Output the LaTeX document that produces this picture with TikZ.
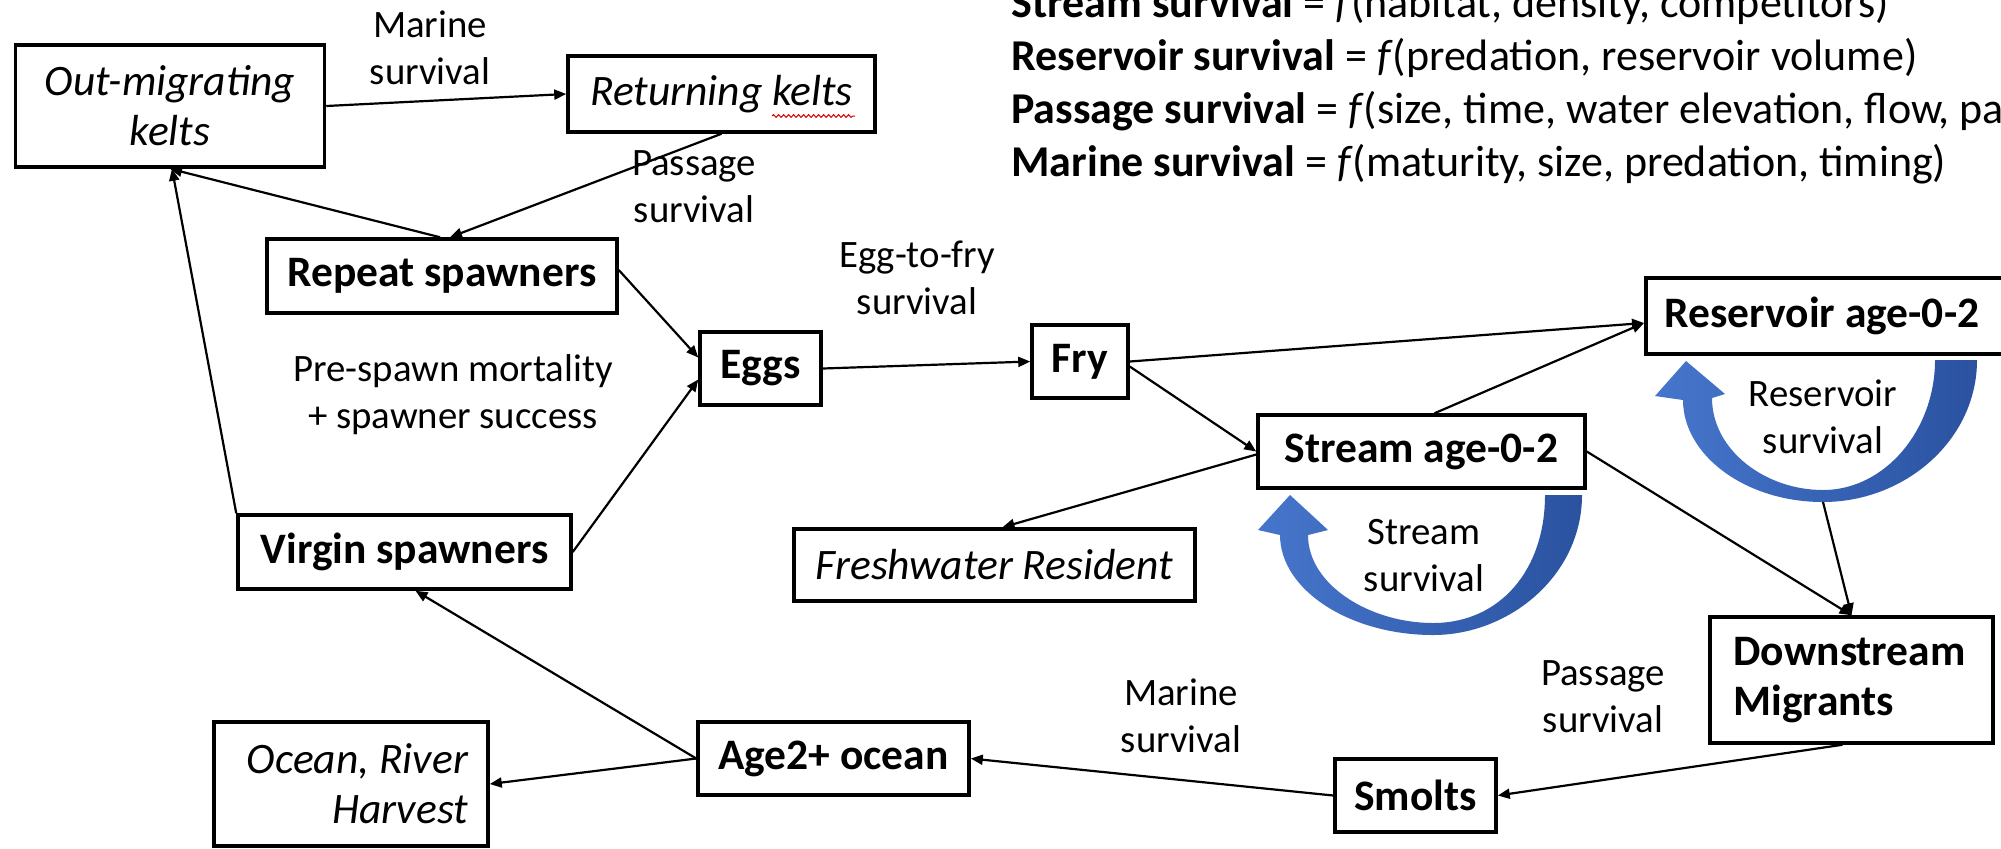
\documentclass[tikz,border=0pt]{standalone}
\usepackage{fontspec}
\setmainfont{Carlito}
\usetikzlibrary{arrows.meta,calc,decorations.pathmorphing}
\definecolor{arcL}{RGB}{70,118,204}
\definecolor{arcR}{RGB}{42,82,160}
\begin{document}
\begin{tikzpicture}[x=0.5pt,y=-0.5pt,
 box/.style={draw, line width=1.75pt, inner sep=0pt, align=center},
 bbox/.style={box, font=\fontsize{21.75}{25}\selectfont\bfseries},
 ibox/.style={box, font=\fontsize{21.75}{25}\selectfont\itshape},
 lbl/.style={align=center, font=\fontsize{19.4}{23.5}\selectfont, inner sep=0pt},
 conn/.style={line width=1.1pt, -{Triangle[length=6pt,width=5pt]}},
 hdr/.style={anchor=base west, inner sep=0pt, font=\fontsize{22}{26.5}\selectfont},
 blue arc/.style={left color=arcL, right color=arcR}]
\useasboundingbox (0,0) rectangle (2001,848);
% curved survival arrows
\shade[blue arc] (1977,360) .. controls (1977,440) and (1905,502) .. (1823,502)
  .. controls (1745,502) and (1683,455) .. (1683,400)
  -- (1655,396) -- (1686,361) -- (1725,394) -- (1712,398)
  .. controls (1712,450) and (1765,490) .. (1823,490)
  .. controls (1885,490) and (1935,430) .. (1935,360) -- cycle;
\shade[blue arc] (1582,495) .. controls (1582,575) and (1510,635) .. (1433,635)
  .. controls (1350,635) and (1280,590) .. (1280,535)
  -- (1258,530) -- (1290,495) -- (1328,530) -- (1308,535)
  .. controls (1308,585) and (1370,623) .. (1433,623)
  .. controls (1500,623) and (1545,570) .. (1545,495) -- cycle;
\coordinate (resb) at (1823,502);
% boxes
\node[ibox, minimum width=154.5pt, minimum height=61pt] (outk) at (170,106) {Out-migrating\\kelts};
\node[ibox, minimum width=153.5pt, minimum height=38pt] (retk) at (721.5,94) {Returning kelts};
\node[bbox, minimum width=175pt, minimum height=37pt] (rep) at (442,276) {Repeat spawners};
\node[bbox, minimum width=60.5pt, minimum height=36.5pt] (eggs) at (760.5,368.5) {Eggs};
\node[bbox, minimum width=166.5pt, minimum height=37pt] (vir) at (404.5,552) {Virgin spawners};
\node[ibox, minimum width=137pt, minimum height=62pt, text width=117pt, align=flush right] (orh) at (351,784) {Ocean, River\\Harvest};
\node[bbox, minimum width=135.5pt, minimum height=36.5pt] (age) at (833.5,758.5) {Age2+ ocean};
\node[bbox, minimum width=80.5pt, minimum height=36.5pt] (smo) at (1415.5,795.5) {Smolts};
\node[bbox, minimum width=141.5pt, minimum height=63pt, text width=118pt, align=flush left] (dm) at (1851.5,680) {Downstream\\Migrants};
\node[bbox, minimum width=163.5pt, minimum height=36.5pt] (st) at (1421.5,451.5) {Stream age-0-2};
\node[bbox, anchor=west, minimum height=38pt, inner xsep=9.5pt, text width=166pt, align=flush left] (res) at (1644,316) {Reservoir age-0-2};
\node[bbox, minimum width=48pt, minimum height=36.5pt] (fry) at (1080,361.5) {Fry};
\node[ibox, minimum width=200.5pt, minimum height=36pt] (fwr) at (994.5,565) {Freshwater Resident};
\draw[red!85!black, line width=0.5pt, decorate, decoration={snake, amplitude=0.7pt, segment length=2.5pt}] (772,116) -- (855,116);
% labels
\node[lbl] (lmar1) at (430,48) {Marine\\survival};
\node[lbl] (lpas1) at (694,187) {Passage\\survival};
\node[lbl] (legg) at (917,278) {Egg-to-fry\\survival};
\node[lbl] (lpre) at (453,395) {Pre-spawn mortality\\+ spawner success};
\node[lbl] (lres) at (1823,417) {Reservoir\\survival};
\node[lbl] (lstr) at (1424,556) {Stream\\survival};
\node[lbl] (lpas2) at (1603,697) {Passage\\survival};
\node[lbl] (lmar2) at (1181,716) {Marine\\survival};
% header
\node[hdr] (h1) at (1011,17) {\textbf{Stream survival} = \textit{f}(habitat, density, competitors)};
\node[hdr] (h2) at (1011,70) {\textbf{Reservoir survival} = \textit{f}(predation, reservoir volume)};
\node[hdr] (h3) at (1011,123) {\textbf{Passage survival} = \textit{f}(size, time, water elevation, flow, pa};
\node[hdr] (h4) at (1011,176) {\textbf{Marine survival} = \textit{f}(maturity, size, predation, timing)};
% connectors
\draw[conn] ($(rep.north)+(-2,0)$) -- (outk.south);
\draw[conn] (retk.south) -- ($(rep.north)+(8,0)$);
\draw[conn] (outk.east) -- (retk.west);
\draw[conn] (vir.north west) -- ($(outk.south)+(2,0)$);
\draw[conn] ($(rep.east)+(0,-6)$) -- (eggs.170);
\draw[conn] (vir.east) -- (eggs.190);
\draw[conn] (eggs.east) -- (fry.west);
\draw[conn] (fry.east) -- ($(res.west)+(0,7)$);
\draw[conn] ($(fry.east)+(0,5)$) -- (st.west);
\draw[conn] ($(st.north)+(13,0)$) -- ($(res.west)+(0,7)$);
\draw[conn] ($(st.west)+(0,3)$) -- ($(fwr.north)+(8,0)$);
\draw[conn] (st.east) -- (dm.north);
\draw[conn] (resb) -- (dm.north);
\draw[conn] ($(dm.south)+(-9,0)$) -- (smo.east);
\draw[conn] (smo.west) -- (age.east);
\draw[conn] (age.west) -- ($(vir.south)+(11,0)$);
\draw[conn] (age.west) -- (orh.east);
\end{tikzpicture}
\end{document}
